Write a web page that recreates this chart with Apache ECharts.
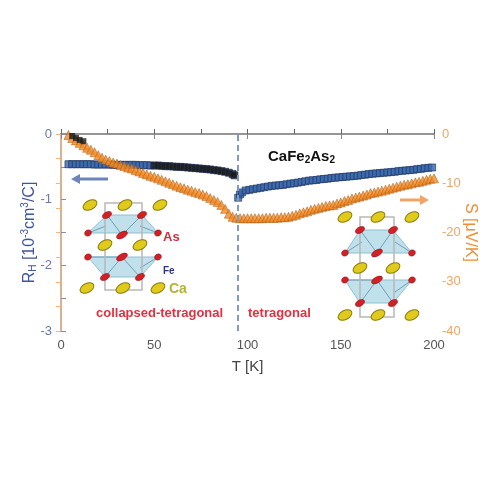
<!DOCTYPE html>
<html>
<head>
<meta charset="utf-8">
<script src="https://cdn.jsdelivr.net/npm/echarts@6/dist/echarts.min.js"></script>
<style>
  html, body { margin: 0; padding: 0; background: #fff; }
  #chart { width: 500px; height: 500px; }
</style>
</head>
<body>
<div id="chart"></div>
<script>
// Hall coefficient R_H (10^-3 cm^3/C), left axis
var hallT = [4,6,8,10,12,14,16,18,20,22,24,26,28,30,32,34,36,38,40,42,44,46,48,50,52,54,56,58,60,62,64,66,68,70,72,74,76,78,80,82,84,86,88,90,92,93,
  95,96,97,99,101,103,105,107,109,111,113,115,117,119,121,123,125,127,129,131,133,135,137,139,141,143,145,147,149,151,153,155,157,159,161,163,165,167,169,171,173,175,177,179,181,183,185,187,189,191,193,195,197,199];
var hallR = [-0.46,-0.46,-0.46,-0.46,-0.46,-0.46,-0.46,-0.465,-0.465,-0.465,-0.465,-0.465,-0.47,-0.47,-0.47,-0.47,-0.47,-0.47,-0.47,-0.475,-0.475,-0.475,-0.48,-0.48,-0.48,-0.485,-0.49,-0.49,-0.495,-0.5,-0.5,-0.505,-0.51,-0.515,-0.52,-0.525,-0.53,-0.535,-0.54,-0.55,-0.555,-0.565,-0.575,-0.59,-0.61,-0.63,
  -0.97,-0.92,-0.89,-0.86,-0.85,-0.84,-0.83,-0.82,-0.81,-0.8,-0.79,-0.785,-0.78,-0.775,-0.765,-0.755,-0.75,-0.74,-0.73,-0.72,-0.71,-0.705,-0.7,-0.69,-0.685,-0.68,-0.67,-0.665,-0.66,-0.655,-0.65,-0.645,-0.64,-0.635,-0.625,-0.62,-0.61,-0.605,-0.6,-0.595,-0.59,-0.585,-0.58,-0.575,-0.565,-0.56,-0.555,-0.55,-0.545,-0.535,-0.53,-0.52,-0.515,-0.51];
// a few dark points near the origin
var lowT = [6,8,10,12];
var lowR = [-0.03,-0.06,-0.09,-0.11];

// Thermopower S (μV/K), right axis
var seebT = [4,6,8,10,12,14,16,18,20,22,24,26,28,30,32,34,36,38,40,42,44,46,48,50,52,54,56,58,60,62,64,66,68,70,72,74,76,78,80,82,84,86,88,90,92,94,96,98,100,
  102,104,106,108,110,112,114,116,118,120,122,124,126,128,130,132,134,136,138,140,142,144,146,148,150,152,154,156,158,160,162,164,166,168,170,172,174,176,178,180,182,184,186,188,190,192,194,196,198,200];
var seebS = [-0.2,-0.8,-1.3,-1.8,-2.3,-2.8,-3.2,-3.7,-4.3,-4.8,-5.2,-5.5,-5.8,-6.0,-6.3,-6.5,-6.8,-7.0,-7.3,-7.6,-7.9,-8.2,-8.5,-8.7,-9.0,-9.3,-9.6,-9.9,-10.2,-10.5,-10.8,-11.0,-11.3,-11.5,-11.8,-12.0,-12.3,-12.6,-13.0,-13.4,-13.8,-14.4,-15.2,-16.2,-16.8,-17.0,-17.1,-17.1,-17.1,
  -17.1,-17.1,-17.1,-17.1,-17.0,-17.0,-17.0,-17.0,-16.9,-16.9,-16.8,-16.6,-16.4,-16.1,-15.9,-15.7,-15.4,-15.2,-15.0,-14.8,-14.6,-14.5,-14.4,-14.1,-13.9,-13.6,-13.4,-13.1,-12.9,-12.7,-12.5,-12.3,-12.0,-11.9,-11.7,-11.5,-11.3,-11.1,-10.9,-10.7,-10.5,-10.3,-10.2,-10.0,-9.8,-9.7,-9.5,-9.3,-9.1,-9.0];

var xTicks = [0, 50, 100, 150, 200];
var transitionT = 95;

function pairs(xs, ys) {
  return xs.map(function (x, i) { return [x, ys[i]]; });
}

// crystal structure sketch (decoration, pixel coords)
function crystal(c) {
  var els = [];
  c.polys.forEach(function (p) {
    els.push({ type: 'polygon', shape: { points: p }, style: { fill: 'rgba(140,200,220,0.55)', stroke: '#8fbfd3', lineWidth: 1 } });
  });
  c.lines.forEach(function (l) {
    els.push({ type: 'line', shape: { x1: l[0], y1: l[1], x2: l[2], y2: l[3] }, style: { stroke: '#6f9fb5', lineWidth: 1 } });
  });
  els.push({ type: 'rect', shape: c.box, style: { fill: 'none', stroke: '#b8b8b8', lineWidth: 1.5 } });
  c.ca.forEach(function (p) {
    els.push({ type: 'ellipse', x: p[0], y: p[1], rotation: 0.5, shape: { cx: 0, cy: 0, rx: 7.5, ry: 4.5 }, style: { fill: '#e0cb1c', stroke: '#8c7c0c', lineWidth: 1 } });
  });
  c.red.forEach(function (p) {
    els.push({ type: 'ellipse', x: p[0], y: p[1], rotation: 0.5, shape: { cx: 0, cy: 0, rx: p[2] || 3.5, ry: 3 }, style: { fill: '#d41f25', stroke: '#8a1015', lineWidth: 0.5 } });
  });
  return { type: 'group', children: els };
}

var leftCrystal = crystal({
  box: { x: 105, y: 203, width: 37, height: 87 },
  polys: [[[107,215],[142,215],[158,233],[88,233]], [[88,257],[158,257],[140,277],[105,277]]],
  lines: [[107,215,122,235],[142,215,122,235],[88,233,106,226],[158,233,140,226],[88,257,122,257],[122,257,105,277],[122,257,140,277],[158,257,140,268]],
  ca: [[90,205],[125,205],[160,205],[105,245],[140,245],[87,288],[123,288],[158,288]],
  red: [[107,215,5],[142,215,5],[88,233],[122,235,6],[158,233],[88,257],[122,257,6],[158,257],[105,277,5],[140,277,5]]
});
var rightCrystal = crystal({
  box: { x: 360, y: 217, width: 34, height: 100 },
  polys: [[[360,230],[393,230],[412,253],[345,253]], [[345,280],[412,280],[393,303],[360,303]]],
  lines: [[360,230,377,253],[393,230,377,253],[345,253,362,242],[412,253,395,242],[345,280,377,280],[377,280,360,303],[377,280,393,303],[412,280,395,292]],
  ca: [[345,217],[378,217],[412,217],[360,268],[393,268],[345,315],[378,315],[412,315]],
  red: [[360,230,5],[393,230,5],[345,253],[377,253,6],[412,253],[345,280],[377,280,6],[412,280],[360,303,5],[393,303,5]]
});

function arrow(x1, x2, y, color) {
  var dir = x2 > x1 ? 1 : -1;
  return { type: 'group', children: [
    { type: 'line', shape: { x1: x1, y1: y, x2: x2 - dir * 6, y2: y }, style: { stroke: color, lineWidth: 3 } },
    { type: 'polygon', shape: { points: [[x2, y], [x2 - dir * 9, y - 5], [x2 - dir * 9, y + 5]] }, style: { fill: color } }
  ] };
}

var font = 'Liberation Sans, Arial, sans-serif';

var option = {
  animation: false,
  grid: { left: 61, right: 66, top: 134, bottom: 169 },
  xAxis: [{
    type: 'value', min: 0, max: 200, interval: 50,
    name: 'T [K]', nameLocation: 'middle', nameGap: 28,
    nameTextStyle: { color: '#444', fontSize: 15, fontFamily: font },
    axisLine: { show: true, lineStyle: { color: '#666', width: 1.5 } },
    axisTick: { show: true, inside: true, length: 5, lineStyle: { color: '#666' } },
    minorTick: { show: true, splitNumber: 2, length: 5, lineStyle: { color: '#666' } },
    axisLabel: { color: '#555', fontSize: 13, fontFamily: font, margin: 8,
      formatter: function (v) { return xTicks.indexOf(v) >= 0 ? String(v) : ''; } },
    splitLine: { show: false }
  }, {
    type: 'value', min: 0, max: 200, interval: 50, position: 'top',
    axisLine: { show: true, lineStyle: { color: '#999', width: 1.5 } },
    axisTick: { show: true, inside: true, length: 5, lineStyle: { color: '#888' } },
    minorTick: { show: false },
    axisLabel: { show: false },
    splitLine: { show: false }
  }],
  yAxis: [{
    type: 'value', min: -3, max: 0, interval: 1,
    name: '{t|R}{s|H}{t| [10}{p|-3}{t|cm}{p|3}{t|/C]}',
    nameLocation: 'middle', nameGap: 22, nameRotate: 90, nameMoveOverlap: false,
    nameTextStyle: {
      color: '#3f55a0', fontFamily: font,
      rich: {
        t: { fontSize: 16, color: '#3f55a0', fontFamily: font },
        s: { fontSize: 10, color: '#3f55a0', fontFamily: font, padding: [8, 0, 0, 0] },
        p: { fontSize: 10, color: '#3f55a0', fontFamily: font, padding: [0, 0, 9, 0] }
      }
    },
    axisLine: { show: true, lineStyle: { color: '#7f8cc0', width: 1.5 } },
    axisTick: { show: true, inside: true, length: 5, lineStyle: { color: '#7f8cc0' } },
    minorTick: { show: true, splitNumber: 2, length: 5, lineStyle: { color: '#7f8cc0' } },
    axisLabel: { color: '#6a78ac', fontSize: 13, fontFamily: font, margin: 9 },
    splitLine: { show: false }
  }, {
    type: 'value', min: -40, max: 0, interval: 10, position: 'right',
    name: 'S [μV/K]', nameLocation: 'middle', nameGap: 28, nameRotate: -90, nameMoveOverlap: false,
    nameTextStyle: { color: '#ef8f33', fontSize: 16, fontFamily: font },
    axisLine: { show: true, lineStyle: { color: '#f2b47a', width: 1.5 } },
    axisTick: { show: true, inside: true, length: 5, lineStyle: { color: '#f2b47a' } },
    minorTick: { show: true, splitNumber: 2, length: 5, lineStyle: { color: '#f2b47a' } },
    axisLabel: { color: '#f0a465', fontSize: 13, fontFamily: font, margin: 8 },
    splitLine: { show: false }
  }],
  series: [{
    type: 'scatter', yAxisIndex: 0, z: 2,
    symbol: 'rect', symbolSize: 7,
    data: pairs(hallT, hallR),
    itemStyle: {
      color: function (p) { return (p.value[0] >= 50 && p.value[0] <= 93) ? '#161616' : '#3465ad'; },
      borderColor: '#1d2f57', borderWidth: 0.8
    },
    markLine: {
      silent: true, symbol: 'none', label: { show: false },
      lineStyle: { color: '#7e9cc2', width: 2, type: [6, 4] },
      data: [{ xAxis: transitionT }]
    }
  }, {
    type: 'scatter', yAxisIndex: 0, z: 4,
    symbol: 'rect', symbolSize: 6,
    data: pairs(lowT, lowR),
    itemStyle: { color: '#1a1a1a' }
  }, {
    type: 'scatter', yAxisIndex: 1, z: 3,
    symbol: 'triangle', symbolSize: 9,
    data: pairs(seebT, seebS),
    itemStyle: { color: '#f28a22', borderColor: '#a4540e', borderWidth: 0.6 }
  }],
  graphic: [
    leftCrystal,
    rightCrystal,
    arrow(108, 71, 179, '#6f84bb'),
    arrow(400, 429, 200, '#f0a465'),
    { type: 'text', x: 268, y: 148, style: {
      text: '{a|CaFe}{b|2}{a|As}{b|2}', fontFamily: font,
      rich: {
        a: { fontSize: 15, fontWeight: 'bold', fill: '#111', fontFamily: font },
        b: { fontSize: 10, fontWeight: 'bold', fill: '#111', fontFamily: font, padding: [7, 0, 0, 0] }
      } } },
    { type: 'text', x: 163, y: 231, style: { text: 'As', fill: '#d2303c', fontSize: 13, fontWeight: 'bold', fontFamily: font } },
    { type: 'text', x: 163, y: 266, style: { text: 'Fe', fill: '#2c3680', fontSize: 10, fontWeight: 'bold', fontFamily: font } },
    { type: 'text', x: 169, y: 282, style: { text: 'Ca', fill: '#b5b432', fontSize: 14, fontWeight: 'bold', fontFamily: font } },
    { type: 'text', x: 96, y: 307, style: { text: 'collapsed-tetragonal', fill: '#e0323e', fontSize: 13, fontWeight: 'bold', fontFamily: font } },
    { type: 'text', x: 248, y: 307, style: { text: 'tetragonal', fill: '#e0323e', fontSize: 13, fontWeight: 'bold', fontFamily: font } }
  ]
};

var chart = echarts.init(document.getElementById('chart'));
chart.setOption(option);
</script>
</body>
</html>
